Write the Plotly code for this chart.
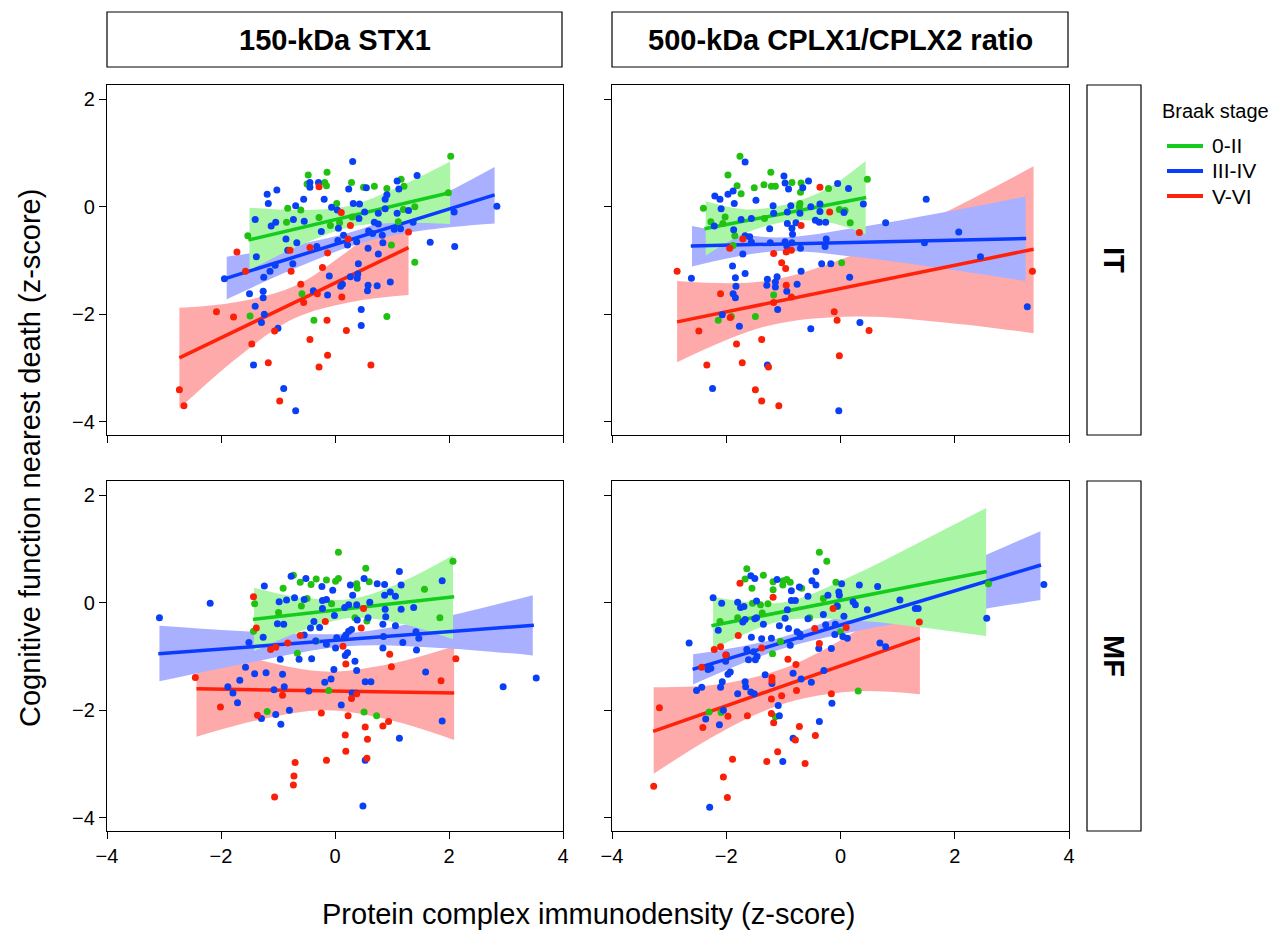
import plotly.graph_objects as go

FONT = "Liberation Sans, Arial, Helvetica, sans-serif"

# ---------------- categories / labels ----------------
stages = ["0-II", "III-IV", "V-VI"]
facet_cols = ["150-kDa STX1", "500-kDa CPLX1/CPLX2 ratio"]
facet_rows = ["IT", "MF"]
x_ticks = [-4, -2, 0, 2, 4]
y_ticks = [-4, -2, 0, 2]
x_title = "Protein complex immunodensity (z-score)"
y_title = "Cognitive function nearest death (z-score)"
legend_title = "Braak stage"

# ---------------- points (x, y) ----------------
IT_STX1_0_II = [(2.03,0.94),(-0.47,0.59),(-0.14,0.64),(-0.49,0.42),(-0.18,0.45),(-0.15,0.39),(0.29,0.45),(0.50,0.36),
    (0.69,0.38),(0.91,0.34),(1.16,0.51),(1.21,0.38),(0.03,0.06),(1.99,0.26),(-0.83,-0.03),(-0.60,-0.06),(1.40,0.00),
    (1.20,-0.05),(-0.28,-0.20),(0.08,-0.30),(-0.08,-0.35),(-0.85,-0.29),(0.30,-0.19),(1.11,-0.28),(-1.53,-0.54),
    (0.99,-0.71),(1.40,-1.03),(-0.58,-1.62),(-1.49,-2.03),(-0.37,-2.11),(0.91,-2.04)]
IT_STX1_III_IV = [(0.31,0.84),(-1.02,0.31),(-1.19,0.23),(-0.44,0.45),(-0.29,0.45),(-0.44,0.36),(0.24,0.33),(0.55,0.35),
    (-0.55,0.14),(-0.19,0.14),(-1.17,0.06),(-0.69,0.02),(0.32,0.06),(0.43,0.05),(-0.06,-0.01),(0.04,-0.06),(0.91,0.22),
    (0.88,0.14),(1.09,0.48),(1.12,0.33),(1.44,0.58),(1.09,-0.12),(1.29,-0.07),(0.76,-0.12),(0.52,-0.10),(0.42,-0.22),
    (0.88,-0.04),(-1.40,-0.24),(-0.54,-0.27),(-0.73,-0.24),(-1.04,-0.29),(-1.12,-0.36),(0.69,-0.29),(0.76,-0.32),
    (0.06,-0.40),(1.04,-0.42),(1.15,-0.41),(1.37,-0.29),(2.09,-0.10),(2.84,0.01),(-0.24,-0.46),(0.59,-0.45),(0.15,-0.53),
    (0.66,-0.50),(0.83,-0.53),(-0.86,-0.60),(-0.67,-0.67),(0.05,-0.63),(0.22,-0.71),(0.38,-0.65),(0.84,-0.67),
    (-0.32,-0.74),(-0.83,-0.81),(-1.38,-0.93),(0.58,-0.77),(0.76,-0.88),(1.67,-0.66),(2.10,-0.74),(-0.74,-1.06),
    (-1.05,-1.09),(-1.14,-1.20),(-1.25,-1.31),(-1.94,-1.34),(0.41,-1.06),(-0.10,-1.29),(0.27,-1.30),(0.40,-1.25),
    (0.39,-1.33),(0.13,-1.44),(0.10,-1.48),(0.58,-1.46),(0.74,-1.47),(0.97,-1.40),(0.57,-1.56),(-0.38,-1.56),
    (-0.13,-1.64),(-1.50,-1.62),(-1.26,-1.57),(-1.26,-1.69),(-1.40,-1.85),(-1.24,-2.00),(-1.29,-2.15),(-1.00,-2.26),
    (0.46,-1.91),(0.46,-2.21),(-1.43,-2.94),(-0.90,-3.38),(-0.69,-3.79)]
IT_STX1_V_VI = [(-0.28,0.37),(0.11,-0.11),(0.27,-0.35),(1.29,-0.47),(0.23,-0.60),(-0.44,-0.76),(-0.79,-0.81),
    (-0.13,-0.86),(-1.72,-0.84),(-1.57,-1.20),(-0.77,-1.20),(-0.22,-1.13),(-0.60,-1.44),(-0.31,-1.62),(-0.55,-1.78),
    (0.12,-1.68),(-2.08,-1.95),(-1.78,-2.05),(-1.46,-2.55),(-1.06,-2.31),(-0.44,-2.47),(-0.14,-2.11),(0.20,-2.30),
    (-0.13,-2.76),(-0.28,-2.98),(-1.17,-2.90),(0.63,-2.94),(-2.73,-3.40),(-2.65,-3.70),(-0.97,-3.61)]

IT_CPLX_0_II = [(-1.76,0.94),(-1.22,0.64),(-1.97,0.59),(-1.81,0.39),(-1.51,0.35),(-1.34,0.41),(-1.21,0.38),(-1.14,0.38),
    (-0.85,0.45),(-0.69,0.44),(-0.21,0.34),(0.47,0.51),(-1.74,0.24),(-2.40,-0.03),(-2.02,-0.19),(-2.06,-0.31),
    (-2.27,-0.28),(-0.70,0.27),(-0.71,0.06),(-0.72,0.00),(-0.02,-0.05),(0.08,-0.07),(-1.33,-0.22),(0.17,-0.30),
    (-1.85,-0.54),(-1.88,-0.72),(0.02,-1.04),(-1.17,-1.64),(-2.14,-2.11),(-1.91,-2.04),(-1.49,-2.04)]
IT_CPLX_III_IV = [(-1.67,0.83),(-0.99,0.57),(-0.56,0.48),(-0.97,0.44),(-0.05,0.43),(0.14,0.34),(-0.91,0.33),(-0.66,0.35),
    (-2.20,0.20),(-2.11,0.14),(-1.97,0.23),(-1.88,0.29),(-1.48,0.12),(-1.86,0.06),(-2.09,-0.04),(-1.18,0.02),
    (-0.87,0.02),(-0.52,0.00),(-0.36,0.05),(0.40,0.05),(1.50,0.14),(-1.17,-0.12),(-0.93,-0.10),(-0.71,-0.12),
    (-0.36,-0.09),(0.06,-0.11),(-1.56,-0.22),(-1.74,-0.24),(-0.93,-0.31),(-0.78,-0.30),(-0.44,-0.25),(-0.26,-0.29),
    (-0.37,-0.29),(-2.21,-0.36),(-1.87,-0.43),(-1.24,-0.41),(-0.85,-0.40),(-0.84,-0.51),(0.79,-0.30),(2.07,-0.47),
    (-1.67,-0.54),(-1.59,-0.56),(-1.56,-0.66),(-1.23,-0.67),(-0.97,-0.65),(-0.85,-0.67),(-0.70,-0.77),(-0.94,-0.73),
    (-0.25,-0.60),(-0.27,-0.74),(1.47,-0.67),(2.45,-0.93),(-1.71,-0.88),(-1.89,-1.10),(-0.33,-1.06),(-0.17,-1.06),
    (-1.67,-1.24),(-0.69,-1.20),(-2.61,-1.33),(-1.84,-1.32),(-1.28,-1.35),(-1.11,-1.30),(-1.14,-1.40),(-1.29,-1.46),
    (-1.14,-1.49),(-0.94,-1.57),(-0.76,-1.44),(-1.83,-1.48),(-1.88,-1.62),(-1.84,-1.69),(0.16,-1.31),(-2.07,-2.01),
    (-1.10,-1.91),(-1.77,-2.22),(-0.52,-2.27),(0.34,-2.15),(3.27,-1.86),(-1.28,-2.94),(-2.24,-3.38),(-0.03,-3.79)]
IT_CPLX_V_VI = [(-0.36,0.36),(-0.19,-0.10),(-0.69,-0.35),(0.33,-0.48),(-1.71,-0.60),(-1.94,-0.77),(-1.17,-0.87),
    (-0.95,-0.84),(-0.86,-0.81),(-1.03,-1.04),(-0.96,-1.15),(-0.95,-1.46),(-2.86,-1.20),(3.36,-1.20),(-2.10,-1.62),
    (-0.86,-1.68),(-1.17,-1.78),(-1.93,-2.06),(-0.11,-1.95),(-0.06,-2.11),(-2.48,-2.31),(0.50,-2.30),(-1.82,-2.55),
    (-1.38,-2.47),(-2.34,-2.94),(-1.72,-2.90),(-1.26,-2.98),(-0.02,-2.77),(-1.49,-3.40),(-1.38,-3.61),(-1.08,-3.70)]

MF_STX1_0_II = [(0.06,0.94),(0.54,0.64),(-0.73,0.51),(-0.61,0.38),(-0.42,0.34),(-0.33,0.44),(-0.15,0.42),(0.01,0.40),
    (0.06,0.45),(0.38,0.35),(0.39,0.27),(0.60,0.39),(-0.91,0.27),(-1.41,-0.02),(-0.49,0.08),(-0.59,-0.06),(-0.06,-0.02),
    (-0.99,-0.18),(1.57,0.25),(2.07,0.77),(1.84,-0.28),(0.35,-0.28),(0.56,-0.34),(-1.43,-0.53),(-0.33,-0.71),
    (-0.66,-0.94),(-0.11,-1.63),(-1.19,-2.02),(0.51,-2.03),(0.73,-2.10)]
MF_STX1_III_IV = [(-3.08,-0.28),(-2.19,-0.01),(-1.24,0.31),(-0.77,0.49),(-0.51,0.45),(-0.23,0.30),(-0.04,0.23),(0.27,0.33),
    (0.51,0.45),(0.74,0.35),(0.87,0.34),(1.13,0.58),(1.16,0.33),(0.87,0.14),(0.97,0.20),(1.06,0.12),(-0.98,0.02),
    (-0.85,0.05),(-0.71,0.09),(-0.54,0.06),(-0.22,0.04),(-0.15,0.06),(0.17,-0.09),(0.24,-0.04),(0.31,0.14),(0.38,-0.04),
    (0.61,0.01),(0.88,-0.12),(1.16,-0.12),(1.38,-0.09),(-0.22,-0.11),(-0.01,-0.24),(-1.01,-0.39),(-0.90,-0.40),
    (-0.37,-0.35),(-0.43,-0.47),(-0.27,-0.46),(0.19,-0.60),(0.24,-0.53),(0.29,-0.50),(0.39,-0.32),(0.58,-0.28),
    (0.84,-0.40),(0.89,-0.26),(1.06,-0.43),(-1.51,-0.74),(-1.26,-0.64),(-0.54,-0.60),(-0.34,-0.71),(-0.15,-0.77),
    (0.03,-0.65),(0.01,-0.84),(0.16,-0.65),(0.22,-0.93),(0.18,-0.98),(0.85,-0.63),(0.84,-0.84),(1.19,-0.74),(1.42,-0.54),
    (1.47,-0.66),(1.43,-0.88),(-0.96,-1.05),(-0.63,-1.05),(-0.41,-1.04),(-0.02,-1.24),(0.35,-1.09),(0.38,-1.26),
    (-1.57,-1.20),(-1.41,-1.32),(-1.21,-1.30),(-0.92,-1.33),(-1.67,-1.44),(-1.88,-1.56),(-1.79,-1.68),(-1.71,-1.86),
    (-1.07,-1.62),(-0.89,-1.56),(-0.46,-1.64),(-0.07,-1.42),(-0.18,-1.48),(0.53,-1.47),(0.63,-1.47),(0.30,-1.68),
    (0.37,-1.68),(0.11,-1.90),(1.59,-1.29),(2.95,-1.56),(3.53,-1.40),(1.88,0.41),(1.88,-2.20),(1.13,-2.52),(-1.29,-2.15),
    (-1.04,-2.08),(-0.95,-2.26),(-0.80,-2.00),(0.53,-2.93),(0.49,-3.78)]
MF_STX1_V_VI = [(-1.43,0.11),(-1.38,-0.47),(-0.17,-0.35),(0.50,-0.11),(0.46,-0.47),(0.14,-0.81),(-0.61,-0.61),
    (-0.83,-0.75),(-1.13,-0.87),(-1.04,-0.83),(0.96,-0.96),(0.99,-1.19),(0.19,-1.14),(-2.45,-1.39),(2.12,-1.04),
    (1.86,-1.45),(-0.92,-1.72),(0.29,-1.78),(0.38,-1.69),(-2.01,-1.94),(-1.36,-2.09),(-0.24,-2.05),(0.23,-2.10),
    (0.94,-2.21),(0.84,-2.29),(0.53,-2.31),(0.57,-2.54),(0.18,-2.46),(0.19,-2.76),(-0.15,-2.93),(0.56,-2.89),
    (-0.70,-2.97),(-0.72,-3.22),(-0.73,-3.39),(-1.06,-3.61)]

MF_CPLX_0_II = [(-0.37,0.94),(-0.24,0.77),(-1.64,0.63),(-1.67,0.44),(-1.35,0.51),(-1.55,0.27),(-1.18,0.39),(-1.00,0.41),
    (-0.94,0.43),(-0.88,0.38),(-1.01,0.33),(-1.18,0.24),(-0.68,0.27),(-0.08,0.38),(-0.30,0.08),(-1.54,-0.01),
    (-1.40,-0.04),(-1.27,-0.02),(-1.37,-0.19),(-2.11,-0.35),(-1.80,-0.28),(-0.54,-0.28),(-0.05,-0.07),(0.00,-0.54),
    (-1.05,-0.72),(-1.19,-0.95),(0.31,-1.64),(-2.30,-2.03),(-2.09,-2.04),(-1.14,-2.12),(2.59,0.35)]
MF_CPLX_III_IV = [(-1.57,0.50),(-1.50,0.45),(-1.11,0.43),(-0.43,0.58),(-0.86,0.22),(-0.72,0.29),(-0.50,0.41),(-0.43,0.33),
    (-0.22,0.14),(-0.03,0.20),(-0.02,0.14),(0.02,0.35),(0.33,0.33),(0.65,0.30),(-2.23,0.09),(-2.08,-0.01),(-1.80,0.01),
    (-1.69,-0.07),(-1.75,-0.09),(-1.47,0.03),(-0.86,0.04),(-0.79,0.04),(-0.93,-0.13),(-0.57,0.12),(0.22,0.02),
    (0.26,-0.04),(0.47,-0.13),(1.04,0.05),(1.31,-0.11),(1.36,-0.11),(2.56,-0.29),(3.56,0.34),(-0.30,-0.22),(0.06,-0.25),
    (-0.06,-0.06),(-0.97,-0.29),(-0.91,-0.48),(-0.76,-0.54),(-0.70,-0.63),(-0.57,-0.30),(-0.26,-0.41),(-0.09,-0.40),
    (-1.67,-0.31),(-1.71,-0.36),(-1.47,-0.28),(-1.50,-0.30),(-1.35,-0.40),(-1.07,-0.43),(-2.14,-0.51),(-1.56,-0.64),
    (-1.38,-0.67),(-1.21,-0.66),(-0.88,-0.79),(-0.71,-0.58),(-0.38,-0.85),(-0.16,-0.85),(-0.10,-0.59),(0.04,-0.63),
    (0.12,-0.66),(0.69,-0.75),(0.79,-0.82),(-2.65,-0.75),(-1.64,-0.87),(-1.52,-0.91),(-1.46,-1.00),(-1.61,-1.06),
    (-1.49,-1.06),(-2.01,-1.09),(-2.00,-0.97),(-2.27,-1.22),(-2.32,-1.24),(-2.43,-1.57),(-2.52,-1.63),(-2.07,-1.47),
    (-2.10,-1.57),(-1.93,-1.29),(-1.97,-1.33),(-1.67,-1.47),(-1.66,-1.56),(-1.57,-1.66),(-1.51,-1.69),(-1.80,-1.69),
    (-1.32,-1.34),(-0.83,-1.31),(-0.69,-1.42),(-0.51,-1.48),(-0.29,-1.26),(-1.20,-1.50),(-1.09,-1.91),(-1.07,-2.10),
    (-0.15,-1.87),(-0.37,-2.21),(-2.36,-2.16),(-2.12,-2.27),(-2.05,-2.00),(-0.83,-2.52),(-1.01,-2.95),(-2.29,-3.80)]
MF_CPLX_V_VI = [(-1.76,0.36),(-1.18,0.10),(-0.13,-0.11),(-1.79,-0.61),(-2.10,-0.82),(-2.21,-0.87),(-2.01,-0.97),
    (-0.45,-0.48),(-0.37,-0.76),(-1.38,-0.84),(-0.92,-1.05),(-0.78,-1.15),(-1.20,-1.39),(-1.20,-1.45),(-0.77,-1.63),
    (-1.03,-1.73),(-1.21,-1.79),(0.10,-0.46),(1.38,-0.36),(-0.16,-1.69),(-2.43,-1.20),(-3.17,-1.95),(-2.41,-2.32),
    (-1.97,-2.11),(-1.63,-2.10),(-1.21,-2.06),(-1.17,-2.23),(-0.72,-2.30),(-0.44,-2.47),(-0.79,-2.55),(-1.10,-2.77),
    (-1.89,-2.91),(-1.29,-2.95),(-0.62,-2.99),(-2.05,-3.24),(-1.98,-3.62),(-3.27,-3.41)]

# ---------------- fitted lines (endpoints) and 95% bands ----------------
IT_STX1_FIT = {
    "0-II":   dict(lx=[-1.52, 2.01], ly=[-0.62, 0.26], bx=[-1.50, -0.62, 0.26, 1.14, 2.02],
                   lo=[-1.18, -0.72, -0.38, -0.30, -0.32], hi=[-0.02, -0.06, 0.02, 0.38, 0.84]),
    "III-IV": dict(lx=[-1.94, 2.80], ly=[-1.34, 0.22], bx=[-1.90, -0.73, 0.45, 1.62, 2.80],
                   lo=[-1.72, -1.16, -0.68, -0.43, -0.31], hi=[-0.93, -0.72, -0.42, 0.09, 0.74]),
    "V-VI":   dict(lx=[-2.73, 1.29], ly=[-2.81, -0.76], bx=[-2.73, -1.72, -0.72, 0.29, 1.29],
                   lo=[-3.75, -2.81, -2.08, -1.77, -1.64], hi=[-1.88, -1.77, -1.48, -0.77, 0.12]),
}
IT_CPLX_FIT = {
    "0-II":   dict(lx=[-2.38, 0.45], ly=[-0.41, 0.17], bx=[-2.36, -1.66, -0.96, -0.26, 0.44],
                   lo=[-0.91, -0.49, -0.28, -0.28, -0.51], hi=[0.10, -0.05, 0.04, 0.32, 0.85]),
    "III-IV": dict(lx=[-2.62, 3.25], ly=[-0.73, -0.59], bx=[-2.60, -1.14, 0.33, 1.79, 3.24],
                   lo=[-1.11, -0.83, -0.94, -1.15, -1.38], hi=[-0.36, -0.57, -0.38, -0.11, 0.19]),
    "V-VI":   dict(lx=[-2.86, 3.38], ly=[-2.14, -0.79], bx=[-2.86, -1.30, 0.26, 1.82, 3.38],
                   lo=[-2.89, -2.22, -2.04, -2.15, -2.35], hi=[-1.38, -1.38, -0.88, -0.11, 0.75]),
}
MF_STX1_FIT = {
    "0-II":   dict(lx=[-1.44, 2.09], ly=[-0.31, 0.11], bx=[-1.42, -0.55, 0.33, 1.20, 2.07],
                   lo=[-0.90, -0.51, -0.28, -0.40, -0.68], hi=[0.28, 0.09, 0.08, 0.40, 0.88]),
    "III-IV": dict(lx=[-3.10, 3.49], ly=[-0.95, -0.42], bx=[-3.08, -1.44, 0.20, 1.84, 3.47],
                   lo=[-1.46, -1.10, -0.81, -0.84, -0.98], hi=[-0.43, -0.54, -0.57, -0.28, 0.14]),
    "V-VI":   dict(lx=[-2.43, 2.09], ly=[-1.60, -1.68], bx=[-2.43, -1.30, -0.17, 0.96, 2.09],
                   lo=[-2.49, -2.17, -2.00, -2.18, -2.55], hi=[-0.71, -1.07, -1.28, -1.14, -0.81]),
}
MF_CPLX_FIT = {
    "0-II":   dict(lx=[-2.26, 2.56], ly=[-0.43, 0.58], bx=[-2.23, -1.04, 0.16, 1.36, 2.55],
                   lo=[-0.87, -0.34, -0.32, -0.45, -0.62], hi=[0.11, 0.00, 0.48, 1.11, 1.76]),
    "III-IV": dict(lx=[-2.59, 3.51], ly=[-1.24, 0.70], bx=[-2.58, -1.06, 0.46, 1.98, 3.50],
                   lo=[-1.52, -0.87, -0.49, -0.21, 0.05], hi=[-0.96, -0.65, -0.05, 0.63, 1.33]),
    "V-VI":   dict(lx=[-3.28, 1.39], ly=[-2.39, -0.66], bx=[-3.27, -2.10, -0.94, 0.23, 1.39],
                   lo=[-3.18, -2.41, -1.86, -1.65, -1.70], hi=[-1.57, -1.51, -1.20, -0.55, 0.33]),
}

# ---------------- styles ----------------
line_colors = {"0-II": "#14CC1E", "III-IV": "#0A3CFF", "V-VI": "#FF220A"}
point_colors = {"0-II": "#22C010", "III-IV": "#0A40F5", "V-VI": "#FA2008"}
band_colors = {"0-II": "#AAF6A6", "III-IV": "#A8B0FF", "V-VI": "#FFAAAA"}

panels = [
    ("IT", 0, {"0-II": IT_STX1_0_II, "III-IV": IT_STX1_III_IV, "V-VI": IT_STX1_V_VI}, IT_STX1_FIT, ""),
    ("IT", 1, {"0-II": IT_CPLX_0_II, "III-IV": IT_CPLX_III_IV, "V-VI": IT_CPLX_V_VI}, IT_CPLX_FIT, "2"),
    ("MF", 0, {"0-II": MF_STX1_0_II, "III-IV": MF_STX1_III_IV, "V-VI": MF_STX1_V_VI}, MF_STX1_FIT, "3"),
    ("MF", 1, {"0-II": MF_CPLX_0_II, "III-IV": MF_CPLX_III_IV, "V-VI": MF_CPLX_V_VI}, MF_CPLX_FIT, "4"),
]

# page has an 8px body margin, so the figure is drawn 8px in from the window corner
OFF = 8
W, H = 1281 - OFF, 931 - OFF
col_px = [(107, 563), (612, 1069)]
row_px = {"IT": (85, 435), "MF": (481, 831)}
Y_RANGE = [-4.243, 2.262]


def px_x(p):
    return (p - OFF) / W


def px_y(p):
    return 1 - (p - OFF) / H


fig = go.Figure()

for row, col, pts, fits, sfx in panels:
    xa, ya = "x" + sfx, "y" + sfx
    for st in ["V-VI", "III-IV", "0-II"]:
        f = fits[st]
        fig.add_trace(go.Scatter(x=f["bx"], y=f["lo"], mode="lines", line=dict(width=0, shape="spline"),
                                 hoverinfo="skip", showlegend=False, xaxis=xa, yaxis=ya))
        fig.add_trace(go.Scatter(x=f["bx"], y=f["hi"], mode="lines", line=dict(width=0, shape="spline"),
                                 fill="tonexty", fillcolor=band_colors[st],
                                 hoverinfo="skip", showlegend=False, xaxis=xa, yaxis=ya))
    for st in ["V-VI", "III-IV", "0-II"]:
        f = fits[st]
        fig.add_trace(go.Scatter(x=f["lx"], y=f["ly"], mode="lines",
                                 line=dict(color=line_colors[st], width=3.5),
                                 name=st, legendgroup=st, showlegend=False, xaxis=xa, yaxis=ya))
    for st in ["0-II", "III-IV", "V-VI"]:
        xs = [p[0] for p in pts[st]]
        ys = [p[1] for p in pts[st]]
        fig.add_trace(go.Scatter(x=xs, y=ys, mode="markers",
                                 marker=dict(color=point_colors[st], size=7, line=dict(width=0)),
                                 name=st, legendgroup=st, showlegend=False, xaxis=xa, yaxis=ya))

axis_common = dict(showgrid=False, zeroline=False, showline=True, mirror=True, linecolor="black",
                   linewidth=1.3, ticks="outside", ticklen=7, tickwidth=1.3, tickcolor="black",
                   automargin=False,
                   tickfont=dict(family=FONT, size=20, color="black"))

layout_axes = {}
for row, col, pts, fits, sfx in panels:
    x0, x1 = col_px[col]
    y0, y1 = row_px[row]
    layout_axes["xaxis" + sfx] = dict(axis_common, domain=[px_x(x0), px_x(x1)], range=[-4, 4],
                                      tickvals=x_ticks, showticklabels=(row == "MF"),
                                      anchor="y" + sfx)
    layout_axes["yaxis" + sfx] = dict(axis_common, domain=[px_y(y1), px_y(y0)], range=Y_RANGE,
                                      tickvals=y_ticks, showticklabels=(col == 0),
                                      anchor="x" + sfx)

shapes = []
annotations = []
for c, label in enumerate(facet_cols):
    x0, x1 = col_px[c]
    shapes.append(dict(type="rect", xref="paper", yref="paper", x0=px_x(x0), x1=px_x(x1 - 1),
                       y0=px_y(67), y1=px_y(12), line=dict(color="black", width=1.2), fillcolor="white"))
    annotations.append(dict(xref="paper", yref="paper", x=px_x((x0 + x1) / 2), y=px_y(40),
                            text="<b>%s</b>" % label, showarrow=False,
                            font=dict(family=FONT, size=29, color="black"), xanchor="center", yanchor="middle"))
for r in facet_rows:
    y0, y1 = row_px[r]
    shapes.append(dict(type="rect", xref="paper", yref="paper", x0=px_x(1087), x1=px_x(1141),
                       y0=px_y(y1), y1=px_y(y0), line=dict(color="black", width=1.2), fillcolor="white"))
    annotations.append(dict(xref="paper", yref="paper", x=px_x(1114), y=px_y((y0 + y1) / 2),
                            text="<b>%s</b>" % r, showarrow=False, textangle=90,
                            font=dict(family=FONT, size=29, color="black"), xanchor="center", yanchor="middle"))
annotations.append(dict(xref="paper", yref="paper", x=px_x(588), y=px_y(914), text=x_title, showarrow=False,
                        font=dict(family=FONT, size=29, color="black"), xanchor="center", yanchor="middle"))
annotations.append(dict(xref="paper", yref="paper", x=px_x(30), y=px_y(458), text=y_title, showarrow=False,
                        textangle=-90, font=dict(family=FONT, size=29, color="black"),
                        xanchor="center", yanchor="middle"))

# legend (drawn as keys + labels)
annotations.append(dict(xref="paper", yref="paper", x=px_x(1160), y=px_y(111), text=legend_title,
                        showarrow=False, font=dict(family=FONT, size=20, color="black"),
                        xanchor="left", yanchor="middle"))
legend_y = [146, 171, 196]
for st, ly in zip(stages, legend_y):
    shapes.append(dict(type="line", xref="paper", yref="paper", x0=px_x(1167), x1=px_x(1203),
                       y0=px_y(ly), y1=px_y(ly), line=dict(color=line_colors[st], width=4)))
    annotations.append(dict(xref="paper", yref="paper", x=px_x(1210), y=px_y(ly), text=st,
                            showarrow=False, font=dict(family=FONT, size=21, color="black"),
                            xanchor="left", yanchor="middle"))

fig.update_layout(
    width=W, height=H, autosize=False,
    margin=dict(l=0, r=0, t=0, b=0, autoexpand=False),
    paper_bgcolor="white", plot_bgcolor="white",
    shapes=shapes, annotations=annotations,
    showlegend=False,
    **layout_axes,
)

fig.write_html("out.html")
